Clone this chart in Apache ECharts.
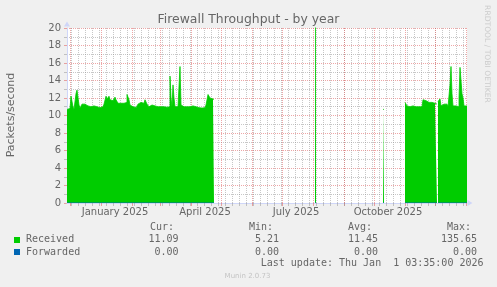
<!DOCTYPE html>
<html><head><meta charset="utf-8">
<script src="https://cdn.jsdelivr.net/npm/echarts@6/dist/echarts.min.js"></script>
<style>html,body{margin:0;padding:0;background:#f0f0f0}#c{width:497px;height:287px}</style>
</head><body><div id="c"></div>
<script>
// ---------- data ----------
const chartTitle = 'Firewall Throughput - by year';
const yAxisName = 'Packets/second';
const seriesNames = ['Received', 'Forwarded'];
const seriesColors = ['#00CC00', '#0066B3'];
const yMin = 0, yMax = 20, yStep = 2;
const xLabelDates = ['2025-01-15', '2025-04-15', '2025-07-15', '2025-10-15'];
const xLabelTexts = ['January 2025', 'April 2025', 'July 2025', 'October 2025'];

// Received, daily values, split into the stretches where data exists
const seg1Start = '2024-11-28';
const seg1Received = [
  10.7,10.7,10.8,11.0,12.2,12.25,11.0,10.7,10.8,12.5,
  12.9,12.8,11.2,10.85,11.0,11.3,11.2,11.3,11.2,11.2,
  11.1,11.0,11.1,11.0,11.1,11.0,11.1,11.0,11.1,11.0,
  10.9,10.85,10.9,11.1,11.1,11.0,11.2,11.3,11.5,12.2,
  11.9,12.1,12.2,11.8,11.9,11.7,11.9,11.8,12.1,11.8,
  11.6,11.4,11.5,11.4,11.4,11.5,11.4,11.5,11.4,11.5,
  12.4,12.5,11.8,11.2,11.3,11.0,10.9,10.85,10.9,10.9,
  11.1,11.3,11.4,11.5,11.4,11.5,11.4,11.6,11.8,11.7,
  11.3,11.1,11.0,11.1,11.2,11.1,11.0,11.1,11.2,11.0,
  11.0,11.0,10.95,11.0,11.0,10.95,11.0,11.0,11.0,10.95,
  11.0,11.0,11.0,14.5,12.0,11.0,13.5,12.0,11.0,11.0,
  11.0,11.1,11.0,15.6,11.2,11.1,11.0,11.1,11.0,11.0,
  11.1,11.0,11.0,10.9,11.0,11.1,11.0,10.9,11.0,10.9,
  11.0,10.9,11.0,10.9,10.85,10.9,10.8,10.9,10.85,11.2,
  11.8,12.4,12.3,12.0,12.0,11.9,11.8
];
const spike1Start = '2025-08-03';
const spike1Received = [135.65];
const spike2Start = '2025-10-10';
const spike2Received = [10.7];
const seg2Start = '2025-11-01';
const seg2Received = [
  11.5,11.4,11.1,11.0,11.0,10.9,11.0,11.1,11.0,11.1,
  11.0,11.0,10.95,11.0,11.0,11.0,11.0,11.05,11.8,11.9,
  11.7,11.6,11.6,11.5,11.6,11.55,11.5,11.6,11.3,11.4,
  11.2,11.3
];
const seg3Start = '2025-12-04';
const seg3Received = [
  11.6,11.5,11.9,11.1,11.0,11.3,11.3,11.2,11.3,11.1,
  11.0,11.0,13.5,15.6,12.5,11.1,11.0,11.1,11.0,11.0,
  11.0,12.0,15.5,15.3,12.5,12.0,11.1,11.0,11.09
];
// Forwarded: flat 0 over the same stretches
const forwardedStarts = ['2024-11-28', '2025-08-03', '2025-10-10', '2025-11-01', '2025-12-04'];
const forwardedEnds   = ['2025-04-24', '2025-08-04', '2025-10-11', '2025-12-03', '2026-01-02'];
const forwardedValues = [0, 0, 0, 0, 0];

const statHeaders = ['Cur:', 'Min:', 'Avg:', 'Max:'];
const receivedStats = ['11.09', '5.21', '11.45', '135.65'];
const forwardedStats = ['0.00', '0.00', '0.00', '0.00'];
const lastUpdate = 'Last update: Thu Jan  1 03:35:00 2026';
const footer = 'Munin 2.0.73';
const watermark = 'RRDTOOL / TOBI OETIKER';

// ---------- helpers ----------
const DAY = 864e5;
const toT = s => Date.parse(s + 'T00:00:00Z');
const axisStart = toT('2024-11-28');
const axisEnd = toT('2026-01-02');

function stepSegment(start, vals) {
  const t0 = toT(start);
  const pts = vals.map((v, i) => [t0 + i * DAY, v]);
  pts.push([t0 + vals.length * DAY, '-']);
  return pts;
}
const receivedData = [].concat(
  stepSegment(seg1Start, seg1Received),
  stepSegment(spike1Start, spike1Received),
  stepSegment(spike2Start, spike2Received),
  stepSegment(seg2Start, seg2Received),
  stepSegment(seg3Start, seg3Received)
);
const forwardedData = [];
forwardedStarts.forEach((s, i) => {
  forwardedData.push([toT(s), forwardedValues[i]], [toT(forwardedEnds[i]), forwardedValues[i]], [toT(forwardedEnds[i]) + DAY / 2, '-']);
});

// grid positions (months = major, Mondays = minor)
const monthLines = [];
for (let d = new Date(Date.UTC(2024, 11, 1)); d.getTime() <= axisEnd; d.setUTCMonth(d.getUTCMonth() + 1)) {
  monthLines.push(d.getTime() + DAY / 2);
}
const weekLines = [];
for (let t = toT('2024-12-02'); t < axisEnd; t += 7 * DAY) weekLines.push(t + DAY / 2);

const labelTimes = xLabelDates.map(toT);
const labelMap = {};
labelTimes.forEach((t, i) => labelMap[t] = xLabelTexts[i]);

const MAJOR = 'rgba(222,79,79,0.5)';
const MINOR = 'rgba(143,143,143,0.5)';
const AXIS = '#CFD6F8';
const FONT = '#666666';

const chart = echarts.init(document.getElementById('c'), null, {renderer: 'canvas'});

const txt = (text, x, y, font, align, extra) => Object.assign({
  type: 'text', x: x, y: y, silent: true,
  style: {text: text, font: font, fill: FONT, textAlign: align, textVerticalAlign: 'middle'}
}, extra || {});
const mono = '10px "DejaVu Sans Mono"';
const headerX = [150, 249, 348, 447];
const valueRight = [178.5, 279, 378, 477];
const graphics = [
  txt(chartTitle, 248.5, 19.5, '12.4px "DejaVu Sans"', 'center'),
  txt(yAxisName, 11, 115, '11px "DejaVu Sans"', 'center', {rotation: Math.PI / 2}),
  txt(watermark, 487, 54, '7.6px "DejaVu Sans"', 'center', {rotation: -Math.PI / 2}),
  {type: 'rect', silent: true, shape: {x: 14, y: 237, width: 6, height: 6}, style: {fill: seriesColors[0]}},
  {type: 'rect', silent: true, shape: {x: 14, y: 249, width: 6, height: 6}, style: {fill: seriesColors[1]}},
  txt(seriesNames[0], 26, 239.7, mono, 'left'),
  txt(seriesNames[1], 26, 252, mono, 'left'),
  txt(lastUpdate, 483.5, 263.5, mono, 'right'),
  txt(footer, 247.5, 276, '7px "DejaVu Sans"', 'center')
];
graphics[2].style.fill = '#cccccc';
graphics[graphics.length - 1].style.fill = '#c4c4c4';
statHeaders.forEach((h, i) => {
  graphics.push(txt(h, headerX[i], 227.3, mono, 'left'));
  graphics.push(txt(receivedStats[i], valueRight[i], 239.7, mono, 'right'));
  graphics.push(txt(forwardedStats[i], valueRight[i], 252, mono, 'right'));
});

chart.setOption({
  animation: false,
  backgroundColor: '#f0f0f0',
  grid: {left: 67, top: 28, width: 400, height: 175, show: true, backgroundColor: '#ffffff', borderWidth: 0},
  xAxis: [{
    type: 'value', min: axisStart, max: axisEnd, z: 4,
    axisLine: {show: true, onZero: false, lineStyle: {color: AXIS, width: 1}, symbol: ['none', 'triangle'], symbolSize: [6, 5], symbolOffset: [0, 3]},
    axisTick: {show: true, customValues: monthLines, length: 3, lineStyle: {color: MAJOR}},
    axisLabel: {customValues: labelTimes, formatter: v => labelMap[v] || '', color: FONT, fontSize: 10, fontFamily: 'DejaVu Sans', margin: 4},
    splitLine: {show: false}
  }, {
    type: 'value', min: axisStart, max: axisEnd, position: 'bottom', z: 4,
    axisLine: {show: false},
    axisTick: {show: true, customValues: weekLines, length: 3, lineStyle: {color: MINOR}},
    axisLabel: {show: false},
    splitLine: {show: false}
  }],
  yAxis: {
    type: 'value', min: yMin, max: yMax, interval: yStep, z: 0,
    axisLine: {show: true, lineStyle: {color: AXIS, width: 1}, symbol: ['none', 'triangle'], symbolSize: [6, 5], symbolOffset: [0, 4]},
    axisTick: {show: true, length: 3, lineStyle: {color: MAJOR}},
    minorTick: {show: true, splitNumber: 2, length: 3, lineStyle: {color: MINOR}},
    splitLine: {show: true, lineStyle: {color: MAJOR, type: [1, 1]}},
    minorSplitLine: {show: true, lineStyle: {color: MINOR, type: [1, 1]}},
    axisLabel: {color: FONT, fontSize: 10, fontFamily: 'DejaVu Sans', margin: 6}
  },
  series: [{
    name: seriesNames[0], type: 'line', data: receivedData, step: 'end', z: 2,
    showSymbol: false, symbol: 'none', connectNulls: false, clip: true,
    color: seriesColors[0],
    lineStyle: {width: 0.8, color: seriesColors[0]},
    areaStyle: {color: seriesColors[0], opacity: 1},
    emphasis: {disabled: true}, silent: true
  }, {
    name: seriesNames[1], type: 'line', data: forwardedData, z: 2,
    showSymbol: false, symbol: 'none', connectNulls: false, clip: true,
    color: seriesColors[1], lineStyle: {width: 1, color: seriesColors[1]},
    emphasis: {disabled: true}, silent: true
  }, {
    name: 'grid', type: 'line', data: [], z: 1, silent: true,
    markLine: {
      z: 1, silent: true, symbol: 'none', label: {show: false}, animation: false,
      data: weekLines.map(t => ({xAxis: t, lineStyle: {color: MINOR, type: [1, 1], width: 1}}))
        .concat(monthLines.map(t => ({xAxis: t, lineStyle: {color: MAJOR, type: [1, 1], width: 1}})))
    }
  }],
  graphic: graphics
});
</script></body></html>
